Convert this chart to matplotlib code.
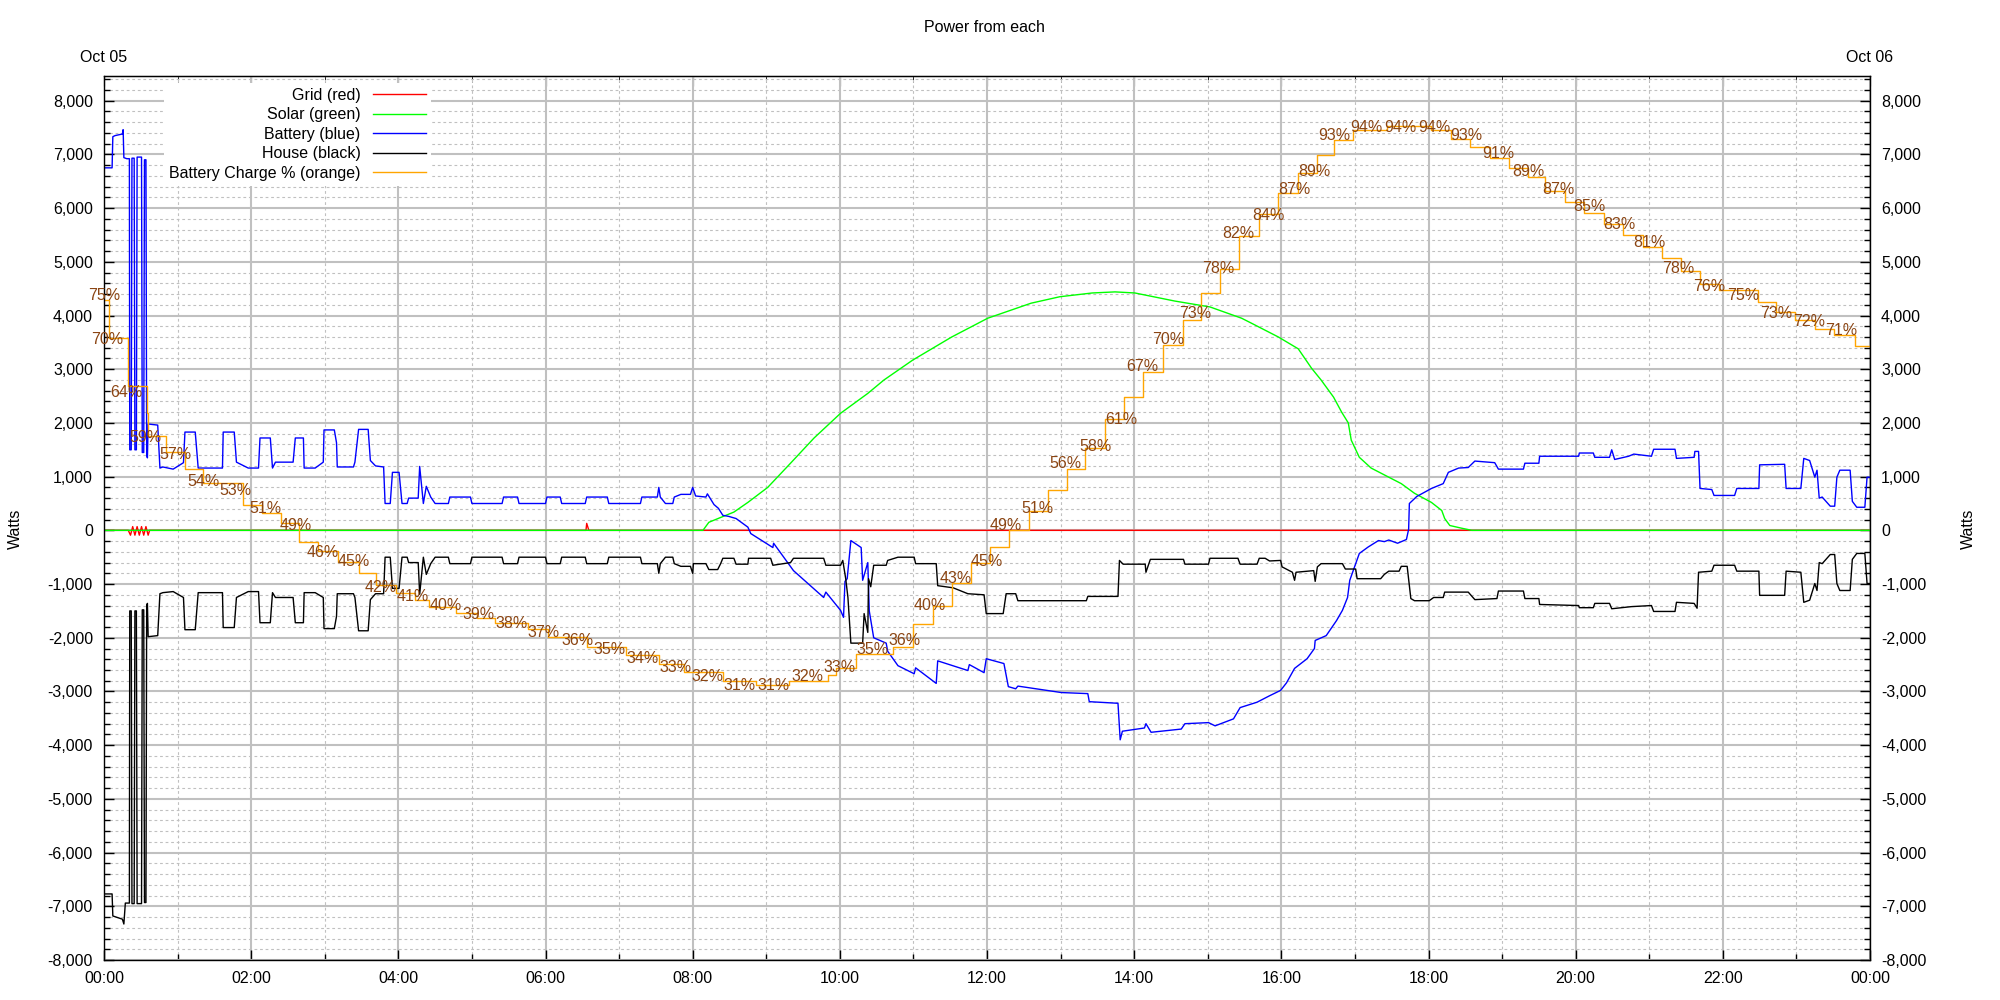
import matplotlib
matplotlib.use("Agg")
import matplotlib.pyplot as plt
from matplotlib.ticker import MultipleLocator, FuncFormatter

plt.rcParams["font.family"] = ["Liberation Sans", "DejaVu Sans"]

# hours since midnight Oct 05, watts
grid_t = [0.0, 0.33, 0.36, 0.39, 0.42, 0.45, 0.48, 0.51, 0.54, 0.57, 0.60, 0.62,
          6.55, 6.56, 6.58, 6.59, 24.0]
grid_w = [0, 0, -90, 70, -90, 70, -90, 70, -90, 70, -90, 0,
          0, 130, 40, 0, 0]

solar_t = [0.0, 8.14, 8.22, 8.38, 8.56, 8.75, 9.02, 9.33, 9.65, 10.01, 10.38, 10.60,
           10.99, 11.52, 12.01, 12.60, 12.99, 13.43, 13.74, 14.01, 14.55, 15.03, 15.46,
           15.59, 15.96, 16.23, 16.41, 16.54, 16.71, 16.82, 16.91, 16.95, 17.06, 17.22,
           17.46, 17.63, 17.81, 18.04, 18.18, 18.22, 18.29, 18.45, 18.59, 24.0]
solar_w = [0, 0, 150, 240, 340, 520, 800, 1250, 1720, 2180, 2550, 2800,
           3170, 3600, 3950, 4230, 4350, 4420, 4440, 4420, 4270, 4160, 3950,
           3860, 3600, 3380, 3020, 2800, 2480, 2200, 2000, 1680, 1360, 1160,
           990, 870, 690, 520, 370, 220, 90, 40, 0, 0]

battery_t = [0.0, 0.11, 0.12, 0.15, 0.25, 0.26, 0.27, 0.31, 0.345, 0.35, 0.37, 0.38,
             0.41, 0.42, 0.44, 0.45, 0.51, 0.52, 0.54, 0.55, 0.57, 0.58, 0.59, 0.60,
             0.73, 0.76, 0.80, 0.94, 1.08, 1.10, 1.24, 1.28, 1.61, 1.62, 1.77, 1.80,
             1.96, 2.10, 2.12, 2.26, 2.29, 2.33, 2.57, 2.60, 2.71, 2.72, 2.87, 2.98,
             2.99, 3.13, 3.16, 3.17, 3.39, 3.41, 3.46, 3.59, 3.62, 3.69, 3.80, 3.82,
             3.89, 3.92, 4.01, 4.05, 4.12, 4.14, 4.27, 4.29, 4.34, 4.38, 4.44, 4.50,
             4.68, 4.70, 4.98, 5.00, 5.41, 5.43, 5.62, 5.64, 6.00, 6.02, 6.20, 6.22,
             6.54, 6.56, 6.84, 6.86, 7.29, 7.31, 7.52, 7.54, 7.56, 7.63, 7.73, 7.75,
             7.84, 7.97, 8.00, 8.04, 8.18, 8.20, 8.29, 8.35, 8.41, 8.49, 8.59, 8.75,
             8.79, 9.09, 9.10, 9.37, 9.78, 9.81, 10.01, 10.05, 10.07, 10.10, 10.15, 10.29,
             10.31, 10.38, 10.40, 10.46, 10.63, 10.65, 10.79, 11.01, 11.03, 11.31, 11.33, 11.74,
             11.76, 11.96, 11.99, 12.23, 12.29, 12.39, 12.42, 13.01, 13.37, 13.39, 13.78, 13.81,
             13.84, 14.14, 14.16, 14.23, 14.64, 14.69, 15.01, 15.10, 15.35, 15.44, 15.67, 15.84,
             15.99, 16.07, 16.18, 16.35, 16.45, 16.46, 16.61, 16.75, 16.83, 16.90, 16.93, 17.06,
             17.18, 17.32, 17.40, 17.46, 17.58, 17.70, 17.73, 17.74, 17.84, 18.04, 18.20, 18.27,
             18.41, 18.54, 18.63, 18.90, 18.95, 19.29, 19.31, 19.50, 19.51, 20.04, 20.05, 20.24,
             20.26, 20.46, 20.49, 20.53, 20.72, 20.79, 21.03, 21.06, 21.35, 21.37, 21.61, 21.62,
             21.67, 21.69, 21.85, 21.88, 22.16, 22.19, 22.49, 22.50, 22.84, 22.86, 23.06, 23.10,
             23.18, 23.25, 23.28, 23.31, 23.35, 23.46, 23.52, 23.55, 23.59, 23.73, 23.76, 23.82,
             23.93, 23.96, 24.0]
battery_w = [6750, 6750, 7330, 7350, 7380, 7460, 6940, 6920, 6920, 1500, 1500, 6930,
             6930, 1500, 1500, 6950, 6950, 1450, 1450, 6900, 6900, 1400, 1350, 1980,
             1960, 1160, 1180, 1140, 1260, 1830, 1830, 1160, 1160, 1830, 1830, 1270,
             1160, 1160, 1720, 1720, 1160, 1270, 1270, 1720, 1720, 1160, 1160, 1270,
             1870, 1870, 1630, 1180, 1180, 1270, 1880, 1880, 1300, 1200, 1180, 500,
             500, 1080, 1080, 500, 500, 600, 600, 1190, 500, 820, 620, 500,
             500, 620, 620, 500, 500, 620, 620, 500, 500, 620, 620, 500,
             500, 620, 620, 500, 500, 620, 620, 800, 620, 500, 500, 620,
             670, 670, 800, 640, 620, 680, 480, 410, 280, 260, 220, 60,
             -60, -320, -240, -750, -1250, -1150, -1490, -1620, -950, -900, -190, -320,
             -930, -600, -1500, -2000, -2100, -2250, -2520, -2670, -2560, -2850, -2430, -2610,
             -2500, -2650, -2390, -2480, -2910, -2950, -2900, -3020, -3040, -3190, -3220, -3900,
             -3740, -3680, -3600, -3760, -3700, -3600, -3580, -3640, -3510, -3300, -3200, -3080,
             -2980, -2840, -2570, -2390, -2200, -2050, -1960, -1680, -1490, -1250, -930, -430,
             -310, -190, -210, -180, -240, -170, 20, 500, 630, 780, 870, 1080,
             1160, 1170, 1290, 1260, 1140, 1140, 1250, 1250, 1380, 1380, 1440, 1440,
             1360, 1360, 1500, 1320, 1380, 1420, 1380, 1510, 1510, 1340, 1360, 1470,
             1470, 780, 760, 650, 650, 780, 780, 1220, 1230, 780, 780, 1340,
             1300, 990, 1120, 600, 620, 450, 450, 990, 1120, 1120, 540, 430,
             430, 990, 990]

house_t = [0.0, 0.11, 0.12, 0.25, 0.27, 0.29, 0.31, 0.345, 0.35, 0.37, 0.38, 0.41,
           0.42, 0.44, 0.45, 0.51, 0.52, 0.54, 0.55, 0.57, 0.58, 0.59, 0.60, 0.73,
           0.76, 0.80, 0.94, 1.08, 1.10, 1.24, 1.28, 1.61, 1.62, 1.77, 1.80, 1.96,
           2.10, 2.12, 2.26, 2.29, 2.33, 2.57, 2.60, 2.71, 2.72, 2.87, 2.98, 2.99,
           3.13, 3.16, 3.17, 3.39, 3.41, 3.46, 3.59, 3.62, 3.69, 3.80, 3.82, 3.89,
           3.92, 4.01, 4.05, 4.12, 4.14, 4.27, 4.29, 4.34, 4.38, 4.44, 4.50, 4.68,
           4.70, 4.98, 5.00, 5.41, 5.43, 5.62, 5.64, 6.00, 6.02, 6.20, 6.22, 6.54,
           6.56, 6.84, 6.86, 7.29, 7.31, 7.52, 7.54, 7.56, 7.63, 7.73, 7.75, 7.84,
           7.97, 8.00, 8.01, 8.18, 8.22, 8.34, 8.38, 8.41, 8.56, 8.59, 8.75, 8.76,
           9.06, 9.09, 9.33, 9.37, 9.78, 9.81, 10.01, 10.04, 10.08, 10.11, 10.15, 10.31,
           10.33, 10.38, 10.39, 10.42, 10.46, 10.63, 10.65, 10.79, 11.01, 11.03, 11.31, 11.33,
           11.54, 11.74, 11.96, 11.99, 12.22, 12.26, 12.39, 12.42, 13.35, 13.37, 13.78, 13.80,
           13.85, 14.15, 14.16, 14.22, 14.67, 14.69, 15.01, 15.03, 15.41, 15.44, 15.67, 15.70,
           15.78, 15.84, 15.99, 16.01, 16.15, 16.18, 16.20, 16.44, 16.46, 16.49, 16.54, 16.83,
           16.87, 17.01, 17.03, 17.35, 17.40, 17.46, 17.60, 17.63, 17.71, 17.76, 17.81, 18.01,
           18.07, 18.20, 18.22, 18.54, 18.63, 18.93, 18.95, 19.29, 19.31, 19.50, 19.51, 20.04,
           20.05, 20.24, 20.26, 20.46, 20.49, 20.76, 21.03, 21.06, 21.35, 21.37, 21.61, 21.65,
           21.67, 21.85, 21.88, 22.16, 22.19, 22.49, 22.50, 22.84, 22.86, 23.06, 23.10, 23.18,
           23.25, 23.28, 23.31, 23.35, 23.46, 23.52, 23.55, 23.59, 23.73, 23.76, 23.82, 23.93,
           23.96, 24.0]
house_w = [-6770, -6770, -7180, -7240, -7330, -6940, -6940, -6940, -1500, -1500, -6950, -6950,
           -1500, -1500, -6950, -6950, -1480, -1480, -6930, -6930, -1400, -1360, -1980, -1960,
           -1180, -1160, -1140, -1250, -1850, -1850, -1160, -1160, -1810, -1810, -1250, -1140,
           -1140, -1720, -1720, -1160, -1250, -1250, -1720, -1720, -1160, -1160, -1250, -1830,
           -1830, -1600, -1180, -1180, -1250, -1870, -1870, -1290, -1180, -1180, -500, -500,
           -1080, -1080, -500, -500, -600, -600, -1190, -500, -820, -620, -500, -500,
           -620, -620, -500, -500, -620, -620, -500, -500, -620, -620, -500, -500,
           -620, -620, -500, -500, -620, -620, -800, -620, -500, -500, -620, -670,
           -670, -800, -620, -620, -730, -730, -620, -520, -520, -630, -630, -520,
           -520, -650, -600, -520, -520, -650, -650, -560, -900, -1250, -2100, -2100,
           -1550, -1900, -900, -1050, -650, -650, -560, -500, -500, -620, -620, -1030,
           -1070, -1180, -1200, -1550, -1550, -1180, -1180, -1310, -1310, -1230, -1230, -560,
           -630, -630, -780, -540, -540, -630, -630, -520, -520, -630, -630, -520,
           -520, -570, -560, -680, -780, -930, -780, -750, -950, -680, -620, -620,
           -720, -720, -900, -900, -820, -760, -760, -670, -670, -1270, -1310, -1310,
           -1250, -1250, -1150, -1150, -1290, -1270, -1130, -1130, -1270, -1270, -1380, -1400,
           -1440, -1440, -1360, -1360, -1460, -1420, -1400, -1510, -1510, -1340, -1360, -1450,
           -780, -760, -650, -650, -760, -760, -1210, -1210, -760, -780, -1340, -1300,
           -990, -1120, -600, -620, -450, -450, -990, -1120, -1120, -540, -430, -430,
           -990, -990]

# battery state of charge, percent (step samples)
charge_t = [0.00, 0.07, 0.33, 0.59, 0.60, 0.84, 1.10, 1.35, 1.89, 2.15, 2.41, 2.65,
            2.91, 3.18, 3.46, 3.70, 3.97, 4.23, 4.41, 4.78, 5.07, 5.32, 5.76, 6.03,
            6.57, 7.09, 7.54, 7.88, 8.41, 8.86, 9.31, 9.84, 9.95, 10.22, 10.72, 10.99,
            11.27, 11.52, 11.78, 12.04, 12.30, 12.57, 12.83, 13.09, 13.33, 13.61, 13.86, 14.12,
            14.39, 14.67, 14.91, 15.17, 15.43, 15.69, 15.96, 16.22, 16.48, 16.72, 16.98, 17.43,
            18.04, 18.31, 18.57, 18.83, 19.09, 19.35, 19.59, 19.86, 20.12, 20.38, 20.65, 20.91,
            21.17, 21.43, 21.69, 21.95, 22.48, 22.72, 22.98, 23.25, 23.51, 23.80, 24.0]
charge_pct = [74.5, 70.2, 64.8, 61.7, 59.1, 57.3, 55.4, 53.8, 51.4, 50.4, 49.3, 47.2,
              46.2, 44.9, 43.7, 42.3, 41.4, 40.6, 39.8, 39.2, 38.6, 38.0, 37.4, 36.5,
              35.3, 34.4, 33.4, 32.5, 31.5, 31.0, 31.5, 32.2, 33.0, 34.5, 35.3, 37.9,
              39.9, 42.5, 44.8, 46.6, 48.5, 50.7, 53.0, 55.4, 57.8, 61.0, 63.5, 66.3,
              69.4, 72.2, 75.3, 78.0, 81.7, 84.2, 86.6, 88.8, 90.8, 92.5, 93.7, 94.1,
              93.7, 92.7, 91.7, 90.5, 89.4, 88.4, 86.8, 85.5, 84.3, 83.1, 81.8, 80.5,
              79.2, 77.8, 76.3, 75.6, 74.3, 73.1, 72.2, 71.2, 70.5, 69.3, 69.3]

label_t = [0.00, 0.04, 0.30, 0.56, 0.97, 1.35, 1.78, 2.20, 2.60, 2.97, 3.40, 3.76,
           4.19, 4.64, 5.09, 5.54, 5.97, 6.43, 6.87, 7.32, 7.77, 8.20, 8.64, 9.10,
           9.56, 10.00, 10.45, 10.88, 11.22, 11.58, 11.99, 12.26, 12.69, 13.06, 13.47, 13.82,
           14.11, 14.46, 14.83, 15.14, 15.42, 15.82, 16.18, 16.45, 16.72, 17.16, 17.62, 18.08,
           18.52, 18.95, 19.36, 19.77, 20.18, 20.60, 21.00, 21.40, 21.82, 22.28, 22.72, 23.17,
           23.61]
label_pct = [75, 70, 64, 59, 57, 54, 53, 51, 49, 46, 45, 42,
             41, 40, 39, 38, 37, 36, 35, 34, 33, 32, 31, 31,
             32, 33, 35, 36, 40, 43, 45, 49, 51, 56, 58, 61,
             67, 70, 73, 78, 82, 84, 87, 89, 93, 94, 94, 94,
             93, 91, 89, 87, 85, 83, 81, 78, 76, 75, 73, 72,
             71]

hour_ticks = list(range(0, 25, 2))
hour_labels = ["00:00", "02:00", "04:00", "06:00", "08:00", "10:00", "12:00",
               "14:00", "16:00", "18:00", "20:00", "22:00", "00:00"]
date_labels = ["Oct 05"] + [""] * 11 + ["Oct 06"]

# percent is drawn on the watts scale: 0 % -> -8000 W, 165 W per percent
PCT_SCALE = 165
PCT_OFFSET = -8000


def pct_to_watts(p):
    return p * PCT_SCALE + PCT_OFFSET


def main():
    fig = plt.figure(figsize=(20, 10), dpi=100)
    ax = fig.add_axes([0.052, 0.04, 0.883, 0.884])

    ax.plot(grid_t, grid_w, color="#ff0000", lw=1.0, label="Grid (red)")
    ax.plot(solar_t, solar_w, color="#00ff00", lw=1.0, label="Solar (green)")
    ax.plot(battery_t, battery_w, color="#0000ff", lw=1.0, label="Battery (blue)")
    ax.plot(house_t, house_w, color="black", lw=1.0, label="House (black)")
    ax.plot(charge_t, [pct_to_watts(p) for p in charge_pct], color="#ffa500", lw=1.0,
            drawstyle="steps-post", label="Battery Charge % (orange)")

    for t, p in zip(label_t, label_pct):
        ax.text(t, pct_to_watts(p), f"{p}%", ha="center", va="center",
                color="#8b4513", fontsize=11.5)

    ax.set_xlim(0, 24)
    ax.set_ylim(-8000, 8460)
    ax.set_xticks(hour_ticks, hour_labels)
    ax.xaxis.set_minor_locator(MultipleLocator(1))
    ax.yaxis.set_major_locator(MultipleLocator(1000))
    ax.yaxis.set_minor_locator(MultipleLocator(200))
    ax.yaxis.set_major_formatter(FuncFormatter(lambda v, _: f"{int(round(v)):,}"))

    ax.set_axisbelow(True)
    ax.grid(which="major", color="#c0c0c0", lw=1.5, ls="-")
    ax.grid(which="minor", color="#c0c0c0", lw=0.8, ls=(0, (2.5, 2.5)))

    ax.tick_params(which="both", direction="in", top=False, right=True,
                   labelright=True, labelsize=11.5, width=1)
    ax.tick_params(which="major", length=7)
    ax.tick_params(which="minor", length=4)
    ax.tick_params(axis="x", pad=8)
    ax.tick_params(axis="y", pad=8)

    top = ax.secondary_xaxis("top")
    top.set_xticks(hour_ticks, date_labels)
    top.xaxis.set_minor_locator(MultipleLocator(1))
    top.tick_params(which="both", direction="in", labelsize=11.5, pad=8)
    top.tick_params(which="major", length=7)
    top.tick_params(which="minor", length=4)

    for s in ax.spines.values():
        s.set_linewidth(1.0)

    fig.text(0.492, 0.973, "Power from each", ha="center", va="center", fontsize=11.5)
    fig.text(0.0075, 0.471, "Watts", rotation=90, ha="center", va="center", fontsize=11.5)
    fig.text(0.984, 0.471, "Watts", rotation=90, ha="center", va="center", fontsize=11.5)

    ax.legend(loc="upper right", bbox_to_anchor=(0.1896, 1.001), markerfirst=False,
              frameon=True, fancybox=False, edgecolor="none", facecolor="white",
              framealpha=1, handlelength=3.3, handletextpad=0.8, labelspacing=0.28,
              borderpad=0.3, fontsize=11.5)

    fig.savefig("out.png", dpi=100)


if __name__ == "__main__":
    main()
